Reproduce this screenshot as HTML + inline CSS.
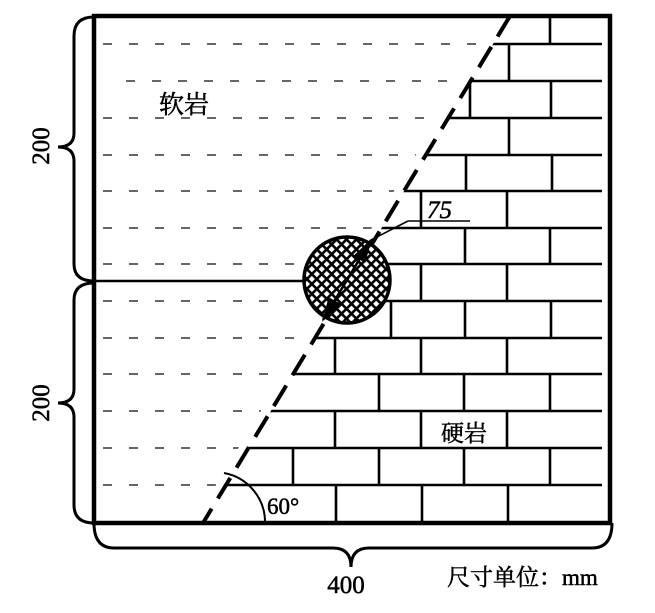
<!DOCTYPE html>
<html><head><meta charset="utf-8"><style>
html,body{margin:0;padding:0;background:#fff;}
svg{display:block;}
text{font-family:"Liberation Serif","Noto Serif CJK SC",serif;fill:#000;stroke:#000;stroke-width:0.5;}
</style></head><body>
<svg width="655" height="613" viewBox="0 0 655 613" xmlns="http://www.w3.org/2000/svg">
<defs>
<pattern id="hatch" width="7" height="7" patternUnits="userSpaceOnUse" patternTransform="rotate(45)">
<rect width="7" height="7" fill="#fff"/>
<rect width="7" height="2.6" fill="#000"/>
<rect width="2.6" height="7" fill="#000"/>
</pattern>
<clipPath id="right"><polygon points="510,16 612,16 612,523 203,523"/></clipPath>
<clipPath id="left"><polygon points="94,16 500,16 193,523 94,523"/></clipPath>
</defs>

<g clip-path="url(#left)" stroke="#333" stroke-width="1.6" stroke-dasharray="9 17">
<line x1="103" y1="44" x2="520" y2="44"/>
<line x1="126" y1="81" x2="520" y2="81"/>
<line x1="103" y1="118" x2="520" y2="118"/>
<line x1="103" y1="155" x2="520" y2="155"/>
<line x1="103" y1="191" x2="520" y2="191"/>
<line x1="103" y1="228" x2="520" y2="228"/>
<line x1="103" y1="264" x2="520" y2="264"/>
<line x1="103" y1="301" x2="520" y2="301"/>
<line x1="103" y1="338" x2="520" y2="338"/>
<line x1="103" y1="374" x2="520" y2="374"/>
<line x1="103" y1="411" x2="520" y2="411"/>
<line x1="103" y1="448" x2="520" y2="448"/>
<line x1="103" y1="485" x2="520" y2="485"/>
</g>

<g clip-path="url(#right)" stroke="#000" stroke-width="2.6">
<line x1="200" y1="44" x2="602" y2="44"/>
<line x1="200" y1="81" x2="602" y2="81"/>
<line x1="200" y1="118" x2="602" y2="118"/>
<line x1="200" y1="155" x2="602" y2="155"/>
<line x1="200" y1="191" x2="602" y2="191"/>
<line x1="200" y1="228" x2="602" y2="228"/>
<line x1="200" y1="264" x2="602" y2="264"/>
<line x1="200" y1="301" x2="602" y2="301"/>
<line x1="200" y1="338" x2="602" y2="338"/>
<line x1="200" y1="374" x2="602" y2="374"/>
<line x1="200" y1="411" x2="602" y2="411"/>
<line x1="200" y1="448" x2="602" y2="448"/>
<line x1="200" y1="485" x2="602" y2="485"/>
<line x1="550" y1="16" x2="550" y2="44"/>
<line x1="509" y1="44" x2="509" y2="81"/>
<line x1="470" y1="81" x2="470" y2="118"/><line x1="551" y1="81" x2="551" y2="118"/>
<line x1="509" y1="118" x2="509" y2="155"/>
<line x1="466" y1="155" x2="466" y2="191"/><line x1="552" y1="155" x2="552" y2="191"/>
<line x1="421" y1="191" x2="421" y2="228"/><line x1="507" y1="191" x2="507" y2="228"/>
<line x1="465" y1="228" x2="465" y2="264"/><line x1="550" y1="228" x2="550" y2="264"/>
<line x1="421" y1="264" x2="421" y2="301"/><line x1="507" y1="264" x2="507" y2="301"/>
<line x1="391" y1="301" x2="391" y2="338"/><line x1="465" y1="301" x2="465" y2="338"/><line x1="551" y1="301" x2="551" y2="338"/>
<line x1="335" y1="338" x2="335" y2="374"/><line x1="421" y1="338" x2="421" y2="374"/><line x1="507" y1="338" x2="507" y2="374"/>
<line x1="379" y1="374" x2="379" y2="411"/><line x1="464" y1="374" x2="464" y2="411"/><line x1="550" y1="374" x2="550" y2="411"/>
<line x1="335" y1="411" x2="335" y2="448"/><line x1="421" y1="411" x2="421" y2="448"/><line x1="507" y1="411" x2="507" y2="448"/>
<line x1="293" y1="448" x2="293" y2="485"/><line x1="379" y1="448" x2="379" y2="485"/><line x1="464" y1="448" x2="464" y2="485"/><line x1="550" y1="448" x2="550" y2="485"/>
<line x1="336" y1="485" x2="336" y2="523"/><line x1="422" y1="485" x2="422" y2="523"/><line x1="508" y1="485" x2="508" y2="523"/>
</g>

<line x1="94" y1="281" x2="305" y2="281" stroke="#000" stroke-width="2.5"/>

<line x1="510" y1="16" x2="203" y2="523" stroke="#000" stroke-width="4" stroke-dasharray="24 12"/>

<circle cx="347" cy="280" r="43" fill="url(#hatch)" stroke="#000" stroke-width="3.5"/>
<g fill="#000" stroke="#000">
<line x1="323" y1="320" x2="371" y2="240" stroke-width="2.5"/>
<polygon points="371,240 365,262 354,256" stroke-width="1"/>
<polygon points="323,320 329,298 340,304" stroke-width="1"/>
<line x1="371" y1="240" x2="408" y2="221" stroke-width="1.6"/>
<line x1="408" y1="221" x2="470" y2="221" stroke-width="1.6"/>
</g>
<text x="427" y="218" font-size="25" font-style="italic">75</text>

<rect x="94" y="16" width="516" height="507" fill="none" stroke="#000" stroke-width="4.5"/>

<path d="M 224 473 A 50 50 0 0 1 265 523" fill="none" stroke="#000" stroke-width="2"/>
<text x="267" y="514" font-size="23">60°</text>

<g fill="none" stroke="#000" stroke-width="3">
<path d="M 94 17 Q 74 17 74 36 L 74 133 Q 74 147 58 147 Q 74 147 74 161 L 74 264 Q 74 281 94 281"/>
<path d="M 94 283 Q 74 283 74 300 L 74 389 Q 74 403 58 403 Q 74 403 74 417 L 74 505 Q 74 523 94 523"/>
<path d="M 94 523 Q 94 548 114 548 L 333 548 Q 351 548 351 567 Q 351 548 369 548 L 592 548 Q 612 548 612 523"/>
</g>
<text transform="translate(49,146) rotate(-90)" font-size="25" text-anchor="middle">200</text>
<text transform="translate(49,403) rotate(-90)" font-size="25" text-anchor="middle">200</text>
<text x="346" y="593" font-size="25" text-anchor="middle">400</text>
<text x="447" y="585" font-size="23">尺寸单位：mm</text>
<text x="159" y="113" font-size="25">软岩</text>
<text x="441" y="441" font-size="23">硬岩</text>
</svg>
</body></html>
